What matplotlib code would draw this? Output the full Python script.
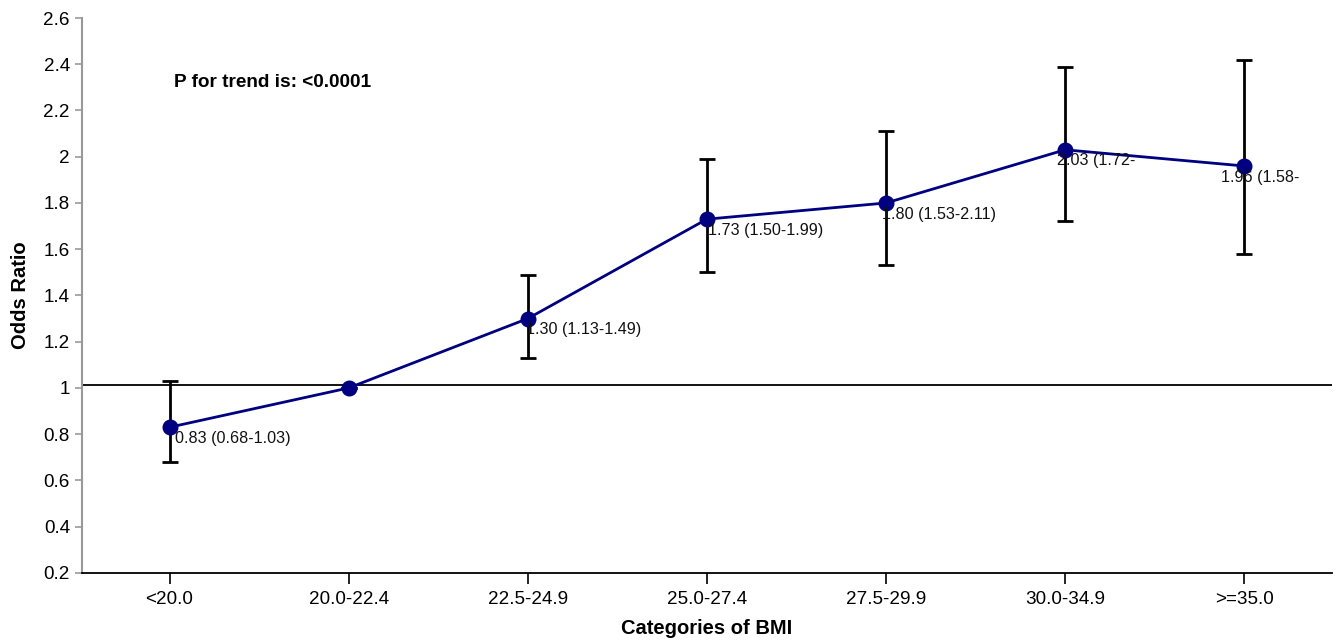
import matplotlib.pyplot as plt
from matplotlib.ticker import FuncFormatter

plt.rcParams["font.family"] = ["Liberation Sans", "DejaVu Sans"]

categories = ["<20.0", "20.0-22.4", "22.5-24.9", "25.0-27.4", "27.5-29.9", "30.0-34.9", ">=35.0"]
odds = [0.83, 1.00, 1.30, 1.73, 1.80, 2.03, 1.96]
ci_low = [0.68, 1.00, 1.13, 1.50, 1.53, 1.72, 1.58]
ci_high = [1.03, 1.00, 1.49, 1.99, 2.11, 2.39, 2.42]
labels = ["0.83 (0.68-1.03)", "", "1.30 (1.13-1.49)", "1.73 (1.50-1.99)",
          "1.80 (1.53-2.11)", "2.03 (1.72-", "1.96 (1.58-"]
# label x offsets in points (the source chart places some oddly)
label_dx = [4, 0, -1, 1, -3, -6, -17]
ref_line = 1.013
yticks = [0.2, 0.4, 0.6, 0.8, 1, 1.2, 1.4, 1.6, 1.8, 2, 2.2, 2.4, 2.6]

fig, ax = plt.subplots(figsize=(13.4, 6.43), dpi=100)
fig.subplots_adjust(left=0.061, right=0.994, top=0.972, bottom=0.109)

x = list(range(len(categories)))
yerr = [[o - l for o, l in zip(odds, ci_low)], [h - o for o, h in zip(odds, ci_high)]]

ax.axhline(ref_line, color="black", lw=1.3, zorder=1)

ax.errorbar(x, odds, yerr=yerr, fmt="none", ecolor="black", elinewidth=2,
            capsize=5.5, capthick=2, zorder=2)
ax.plot(x, odds, color="#000080", lw=2, marker="o", markersize=10.5,
        markerfacecolor="#000080", markeredgecolor="#000080", zorder=3)

for xi, yi, lab, dx in zip(x, odds, labels, label_dx):
    if lab:
        ax.annotate(lab, (xi, yi), xytext=(dx, -8), textcoords="offset points",
                    ha="left", va="center", fontsize=11.6, color="#111111", zorder=4)

ax.text(0.074, 0.883, "P for trend is: <0.0001", transform=ax.transAxes,
        fontsize=13.7, fontweight="bold", va="center", ha="left")

ax.set_xlim(-0.49, 6.49)
ax.set_ylim(0.2, 2.6)
ax.set_xticks(x)
ax.set_xticklabels(categories, fontsize=13.6)
ax.set_yticks(yticks)
ax.yaxis.set_major_formatter(FuncFormatter(lambda v, p: "%g" % round(v, 2)))
ax.tick_params(axis="y", labelsize=13.6, length=5, color="#999999", width=1.2)
ax.tick_params(axis="x", length=8, color="black", width=1.2, pad=5)

ax.spines["top"].set_visible(False)
ax.spines["right"].set_visible(False)
ax.spines["left"].set_color("#999999")
ax.spines["left"].set_linewidth(1.5)
ax.spines["bottom"].set_color("black")
ax.spines["bottom"].set_linewidth(1.3)

ax.set_ylabel("Odds Ratio", fontsize=14.5, fontweight="bold", labelpad=10)
ax.set_xlabel("Categories of BMI", fontsize=14.5, fontweight="bold", labelpad=8)

fig.savefig("out.png", dpi=100)
